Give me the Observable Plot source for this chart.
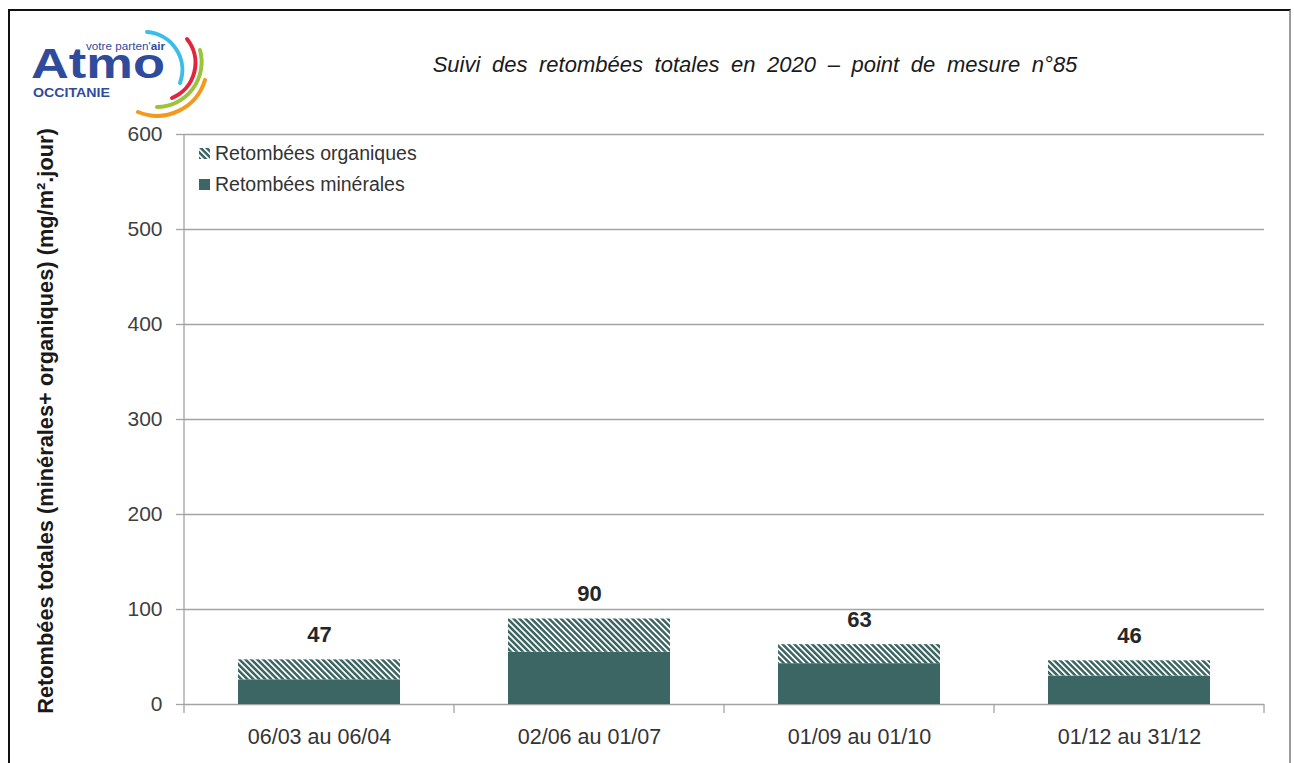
<!DOCTYPE html>
<html>
<head>
<meta charset="utf-8">
<script src="https://cdn.jsdelivr.net/npm/d3@7"></script>
<script src="https://cdn.jsdelivr.net/npm/@observablehq/plot@0.6"></script>
<style>
  html, body { margin: 0; padding: 0; background: #fff; }
  #wrap { position: relative; width: 1294px; height: 763px; overflow: hidden; font-family: "Liberation Sans", Arial, sans-serif; }
  #frame { position: absolute; left: 8px; top: 9px; width: 1283px; height: 800px; border-left: 2px solid #111; border-top: 2px solid #111; border-right: 2px solid #9a9a9a; box-sizing: border-box; pointer-events: none; }
  #chart { position: absolute; left: 0; top: 0; }
  #title { position: absolute; left: 755px; top: 52px; transform: translateX(-50%); white-space: nowrap; font-style: italic; font-size: 22px; color: #1a1a1a; word-spacing: 5.5px; }
  #ylabel { position: absolute; left: 46px; top: 421px; transform: translate(-50%, -50%) rotate(-90deg); white-space: nowrap; font-weight: bold; font-size: 21.8px; color: #1a1a1a; }
  #legend { position: absolute; left: 199px; top: 138px; font-size: 19.5px; color: #333; line-height: 31px; }
  #legend div { display: flex; align-items: center; }
  #legend svg { margin-right: 5px; }
  #logo { position: absolute; left: 0; top: 0; }
</style>
</head>
<body>
<div id="wrap">
  <svg width="0" height="0" style="position:absolute">
    <defs>
      <pattern id="hatch" patternUnits="userSpaceOnUse" width="4.2" height="4.2" patternTransform="rotate(-45)">
        <rect x="0" y="0" width="4.2" height="4.2" fill="#ffffff"></rect>
        <rect x="0" y="0" width="2.5" height="4.2" fill="#3c6664"></rect>
      </pattern>
    </defs>
  </svg>
  <div id="chart"></div>
  <svg id="logo" width="230" height="120">
    <text x="86" y="50" font-family="Liberation Sans, Arial" font-size="11" fill="#2f4b9c" textLength="79" lengthAdjust="spacingAndGlyphs">votre parten'<tspan font-weight="bold">air</tspan></text>
    <text x="31" y="78" font-family="Liberation Sans, Arial" font-weight="bold" font-size="42" fill="#2f4b9c" textLength="134" lengthAdjust="spacingAndGlyphs">Atmo</text>
    <text x="33" y="97" font-family="Liberation Sans, Arial" font-weight="bold" font-size="13.5" fill="#2f4b9c" textLength="77" lengthAdjust="spacingAndGlyphs">OCCITANIE</text>
    <path d="M147,32 A38,38 0 0 1 180,83" fill="none" stroke="#3bbde8" stroke-width="4" stroke-linecap="round"></path>
    <path d="M187,39 A38,38 0 0 1 172,98" fill="none" stroke="#e2253c" stroke-width="4" stroke-linecap="round"></path>
    <path d="M200,50 A45,45 0 0 1 157,107" fill="none" stroke="#9cc43b" stroke-width="4" stroke-linecap="round"></path>
    <path d="M205,80 A50,50 0 0 1 138,112" fill="none" stroke="#f39a1e" stroke-width="4" stroke-linecap="round"></path>
  </svg>
  <div id="title">Suivi des retombées totales en 2020 – point de mesure n°85</div>
  <div id="ylabel">Retombées totales (minérales+ organiques) (mg/m².jour)</div>
  <div id="legend">
    <div><svg width="11" height="11"><rect width="11" height="11" fill="url(#hatch)"></rect></svg>Retombées organiques</div>
    <div><svg width="11" height="11"><rect width="11" height="11" fill="#3c6664"></rect></svg>Retombées minérales</div>
  </div>
  <div id="frame"></div>
</div>
<script>
// ---- data ----
const periodes = ["06/03 au 06/04", "02/06 au 01/07", "01/09 au 01/10", "01/12 au 31/12"];
const minerales = [26, 55, 43, 30];
const organiques = [21, 35, 20, 16];
const totales = [47, 90, 63, 46];
const yTicks = [0, 100, 200, 300, 400, 500, 600];

const rows = periodes.map((p, i) => ({
  periode: p,
  minerales: minerales[i],
  organiques: organiques[i],
  total: totales[i]
}));

const axisColor = "#a3a3a3";
const teal = "#3c6664";

// y axis line and x-axis boundary ticks, drawn from the scales
function axisLines(index, scales, values, dim) {
  const g = document.createElementNS("http://www.w3.org/2000/svg", "g");
  const x0 = dim.marginLeft;
  const y0 = scales.y(0);
  const yTop = scales.y(600);
  const step = scales.x(periodes[1]) - scales.x(periodes[0]);
  const bw = step * 0.6;
  const line = (x1, y1, x2, y2) => {
    const l = document.createElementNS("http://www.w3.org/2000/svg", "line");
    l.setAttribute("x1", x1); l.setAttribute("y1", y1);
    l.setAttribute("x2", x2); l.setAttribute("y2", y2);
    l.setAttribute("stroke", axisColor);
    l.setAttribute("stroke-width", 1.3);
    g.appendChild(l);
  };
  line(x0, yTop, x0, y0 + 9);
  periodes.forEach((p) => {
    const xb = scales.x(p) + bw + step * 0.2;
    line(xb, y0, xb, y0 + 9);
  });
  return g;
}

const chart = Plot.plot({
  width: 1294,
  height: 763,
  marginLeft: 184,
  marginRight: 30,
  marginTop: 134,
  marginBottom: 59,
  style: { fontFamily: "Liberation Sans, Arial, sans-serif", background: "transparent", overflow: "visible" },
  x: { domain: periodes, paddingInner: 0.4, paddingOuter: 0.2, label: null },
  y: { domain: [0, 600], label: null },
  marks: [
    Plot.ruleY(yTicks, { stroke: axisColor, strokeWidth: 1.3 }),
    Plot.barY(rows, { x: "periode", y1: 0, y2: "minerales", fill: teal, inset: 0 }),
    Plot.barY(rows, { x: "periode", y1: "minerales", y2: "total", fill: "url(#hatch)", inset: 0 }),
    Plot.text(rows, { x: "periode", y: "total", text: (d) => String(d.total), dy: -25, fontWeight: "bold", fontSize: 22, fill: "#262626" }),
    Plot.axisY({ ticks: yTicks, tickSize: 8, tickPadding: 14, fontSize: 21, color: "#404040", stroke: axisColor, strokeWidth: 1.3, label: null }),
    Plot.axisX({ tickSize: 0, tickPadding: 24, fontSize: 21.5, color: "#333", label: null }),
    axisLines
  ]
});

document.getElementById("chart").appendChild(chart);
</script>
</body>
</html>
